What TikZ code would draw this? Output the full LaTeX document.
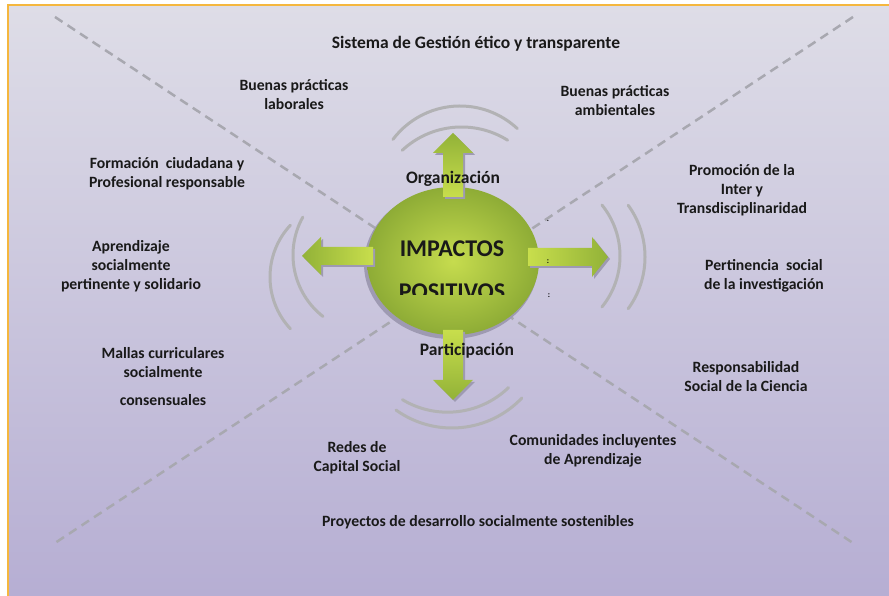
\documentclass[tikz,border=0pt]{standalone}
\usepackage{fontspec}
\setmainfont{Carlito}
\usetikzlibrary{positioning,shapes.geometric}

\definecolor{bgtop}{RGB}{222,221,231}
\definecolor{bgbot}{RGB}{182,174,211}
\definecolor{framecol}{RGB}{245,183,62}
\definecolor{wavegray}{RGB}{178,178,180}
\definecolor{dashgray}{RGB}{168,168,176}
\definecolor{hubin}{RGB}{198,220,78}
\definecolor{hubout}{RGB}{142,172,54}
\definecolor{arrlight}{RGB}{200,222,76}
\definecolor{arrdark}{RGB}{146,178,56}
\definecolor{shadowgray}{RGB}{158,154,178}
\definecolor{ink}{RGB}{25,25,25}

\tikzset{
  txt/.style={font=\bfseries\fontsize{15.7}{19}\selectfont, align=center, text=ink},
  headtxt/.style={font=\bfseries\fontsize{17.5}{21}\selectfont, align=center, text=ink},
  bigtxt/.style={font=\bfseries\fontsize{24}{29}\selectfont, text=ink},
  wave/.style={wavegray, line width=3pt, line cap=round},
  diag/.style={dashgray, line width=2.5pt, dash pattern=on 9pt off 6pt},
  hub/.style={ellipse, minimum width=172pt, minimum height=148pt, inner color=hubin, outer color=hubout},
  arrshadow/.style={fill=shadowgray},
}

\begin{document}
\begin{tikzpicture}[x=1pt,y=1pt,node distance=80pt,on grid]
   \useasboundingbox (0,0) rectangle (889,596);
   % background and frame
   \fill[white] (0,0) rectangle (889,596);
   \shade[top color=bgtop, bottom color=bgbot] (8,0) rectangle (889,591);
   \draw[framecol, line width=2pt] (8,0) -- (8,591) -- (889,591);

   % diagonals
   \coordinate (nw) at (55,579);
   \coordinate (ne) at (853,579);
   \coordinate (sw) at (55,53);
   \coordinate (se) at (853,53);
   \draw[diag] (nw) -- (se);
   \draw[diag] (ne) -- (sw);

   % waves
   \draw[wave] (460,406) ++(143:84pt) arc[start angle=143, end angle=47, radius=84pt];
   \draw[wave] (461.5,382) ++(133:87pt) arc[start angle=133, end angle=58, radius=87pt];
   \draw[wave] (447.6,271.5) ++(239:87.7pt) arc[start angle=239, end angle=314, radius=87.7pt];
   \draw[wave] (452,264.4) ++(234.5:96.4pt) arc[start angle=234.5, end angle=316.5, radius=96.4pt];
   \draw[wave] (346,319) ++(137:76pt) arc[start angle=137, end angle=223, radius=76pt];
   \draw[wave] (371,341) ++(151:78pt) arc[start angle=151, end angle=232, radius=78pt];
   \draw[wave] (539,340) ++(39:81pt) arc[start angle=39, end angle=-39, radius=81pt];
   \draw[wave] (557,339) ++(36:88pt) arc[start angle=36, end angle=-36, radius=88pt];

   % centre
   \fill[shadowgray] (451,332) ellipse [x radius=87pt, y radius=75pt];
   \node[hub] (hub) at (453,335) {};

   % arrows
   \fill[arrshadow] (445,397) -- (445,441) -- (435,441) -- (455,461) -- (475,441) -- (465,441) -- (465,397) -- cycle;
   \shade[bottom color=arrlight, top color=arrdark] (443,399) -- (443,443) -- (433,443) -- (453,463) -- (473,443) -- (463,443) -- (463,399) -- cycle;
   \fill[arrshadow] (445,264) -- (445,214) -- (435,214) -- (455,194) -- (475,214) -- (465,214) -- (465,264) -- cycle;
   \shade[top color=arrlight, bottom color=arrdark] (443,266) -- (443,216) -- (433,216) -- (453,196) -- (473,216) -- (463,216) -- (463,266) -- cycle;
   \fill[arrshadow] (375,329) -- (323,329) -- (323,319) -- (304,338) -- (323,357) -- (323,347) -- (375,347) -- cycle;
   \shade[left color=arrdark, right color=arrlight] (373,331) -- (321,331) -- (321,321) -- (302,340) -- (321,359) -- (321,349) -- (373,349) -- cycle;
   \fill[arrshadow] (530,328) -- (594,328) -- (594,317) -- (610,337) -- (594,357) -- (594,346) -- (530,346) -- cycle;
   \shade[left color=arrlight, right color=arrdark] (528,330) -- (592,330) -- (592,319) -- (608,339) -- (592,359) -- (592,348) -- (528,348) -- cycle;

   \node[bigtxt] (imp) at (452,347) {IMPACTOS};
   \begin{scope}
     \clip (380,301) rectangle (530,320);
     \node[bigtxt] (pos) [below=43pt of imp] {POSITIVOS};
   \end{scope}
   \node[headtxt] (org) [above=82pt of hub] {Organización};
   \node[headtxt] (par) [below=90pt of hub, xshift=14pt] {Participación};
   \node[font=\bfseries\fontsize{8}{8}\selectfont] (d1) at (548,375) {.};
   \node[font=\bfseries\fontsize{8}{8}\selectfont] (d2) at (548,334) {:};
   \node[font=\bfseries\fontsize{8}{8}\selectfont] (d3) at (549,300) {:};

   % labels
   \node[headtxt] (sis) at (476,552) {Sistema de Gestión ético y transparente};
   \node[txt] (lab) at (294,501) {Buenas prácticas\\laborales};
   \node[txt] (amb) at (615,495) {Buenas prácticas\\ambientales};
   \node[txt] (for) at (167,422) {Formación\ \ ciudadana y\\Profesional responsable};
   \node[txt] (apr) at (131,330) {Aprendizaje\\socialmente\\pertinente y solidario};
   \node[txt] (mal) at (163,219) {Mallas curriculares\\socialmente\\[9pt]consensuales};
   \node[txt] (red) at (357,138) {Redes de\\Capital Social};
   \node[txt] (pro) at (478,74) {Proyectos de desarrollo socialmente sostenibles};
   \node[txt] (com) at (593,145) {Comunidades incluyentes\\de Aprendizaje};
   \node[txt] (res) at (746,219) {Responsabilidad\\Social de la Ciencia};
   \node[txt] (per) at (764,320) {Pertinencia\ \ social\\de la investigación};
   \node[txt] (prm) at (742,406) {Promoción de la\\Inter y\\Transdisciplinaridad};
\end{tikzpicture}
\end{document}
